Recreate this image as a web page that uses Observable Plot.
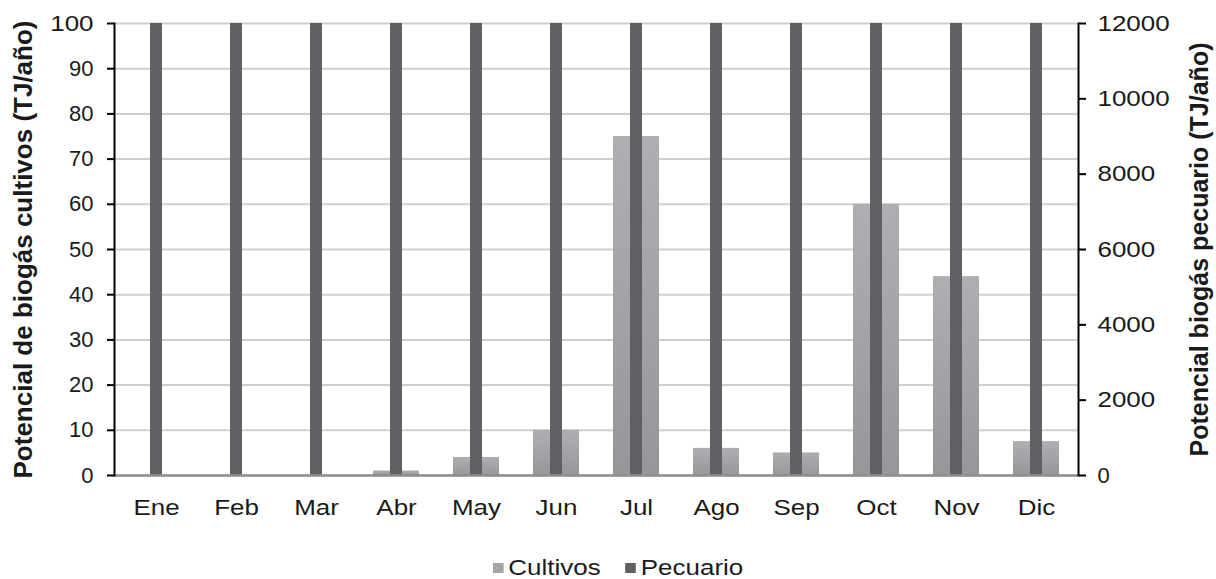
<!DOCTYPE html>
<html>
<head>
<meta charset="utf-8">
<script src="https://cdn.jsdelivr.net/npm/d3@7"></script>
<script src="https://cdn.jsdelivr.net/npm/@observablehq/plot@0.6"></script>
<style>
  body { margin: 0; background: #fff; font-family: "Liberation Sans", Arial, sans-serif; }
  #wrap { position: relative; width: 1216px; height: 579px; overflow: hidden; }
  #legend { position: absolute; top: 555px; left: 493px; font-size: 22px; line-height: 26px; color: #1a1a1a; display: flex; align-items: center; white-space: nowrap; transform: scaleX(1.18); transform-origin: 0 50%; }
  .sw { display: inline-block; width: 9px; height: 10px; margin-right: 4px; }
  .item { display: flex; align-items: center; margin-right: 21px; }
</style>
</head>
<body>
<div id="wrap">
  <div id="chart"></div>
  <div id="legend">
    <span class="item"><span class="sw" style="background:#a4a5a9"></span>Cultivos</span>
    <span class="item"><span class="sw" style="background:#5f6064"></span>Pecuario</span>
  </div>
</div>
<script>
const months = ["Ene", "Feb", "Mar", "Abr", "May", "Jun", "Jul", "Ago", "Sep", "Oct", "Nov", "Dic"];
const cultivos = [0, 0, 0, 1, 4, 10, 75, 6, 5, 60, 44, 7.5];
const pecuario = [12000, 12000, 12000, 12000, 12000, 12000, 12000, 12000, 12000, 12000, 12000, 12000];
const leftTicks = [0, 10, 20, 30, 40, 50, 60, 70, 80, 90, 100];
const rightTicks = [0, 2000, 4000, 6000, 8000, 10000, 12000];
const leftMax = 100;
const rightMax = 12000;
const leftTitle = "Potencial de biogás cultivos (TJ/año)";
const rightTitle = "Potencial biogás pecuario (TJ/año)";

const data = months.map((m, i) => ({month: m, cultivos: cultivos[i], pecuario: pecuario[i]}));
const toLeft = v => v * leftMax / rightMax;

const chart = Plot.plot({
  width: 1216,
  height: 545,
  marginLeft: 114,
  marginRight: 138,
  marginTop: 23,
  marginBottom: 70,
  style: {fontFamily: "'Liberation Sans', Arial, sans-serif", fontSize: "22px", color: "#1a1a1a", background: "#fff"},
  x: {domain: months, paddingInner: 0.427, paddingOuter: 0.2135, label: null},
  y: {domain: [0, leftMax]},
  marks: [
    Plot.gridY(leftTicks, {stroke: "#cfcfcf", strokeOpacity: 1, strokeWidth: 2}),
    Plot.barY(data, {x: "month", y: "cultivos", fill: "url(#gradC)"}),
    Plot.barY(data, {x: "month", y: d => toLeft(d.pecuario), fill: "#5f6064", insetLeft: 17, insetRight: 17}),
    Plot.ruleY([0], {stroke: "#8e8e8e", strokeWidth: 2.5}),
    Plot.axisX({tickSize: 0, tickPadding: 24, fontSize: 22}),
    Plot.axisY(leftTicks, {anchor: "left", tickSize: 7, tickPadding: 14, strokeWidth: 2, stroke: "#000", fontSize: 22, label: leftTitle, labelAnchor: "center", labelOffset: 101}),
    Plot.axisY(rightTicks.map(toLeft), {anchor: "right", tickSize: 7, tickPadding: 12, strokeWidth: 2, stroke: "#000", fontSize: 22, tickFormat: d => String(Math.round(d * rightMax / leftMax)), label: rightTitle, labelAnchor: "center", labelOffset: 129}),
    Plot.frame({anchor: "left", stroke: "#000", strokeWidth: 2}),
    Plot.frame({anchor: "right", stroke: "#000", strokeWidth: 2})
  ]
});

const ns = "http://www.w3.org/2000/svg";
const defs = document.createElementNS(ns, "defs");
defs.innerHTML = `<linearGradient id="gradC" x1="0" y1="0" x2="0" y2="1">
  <stop offset="0" stop-color="#aeafb3"/><stop offset="1" stop-color="#96979b"/></linearGradient>`;
chart.insertBefore(defs, chart.firstChild);

// axis titles: bold, larger, no arrow
chart.querySelectorAll('[aria-label="y-axis label"]').forEach((g, i) => {
  const fs = i === 0 ? 26 : 25;
  g.setAttribute("font-weight", "bold");
  g.setAttribute("font-size", fs);
  g.querySelectorAll("text").forEach(t => {
    t.setAttribute("font-weight", "bold");
    t.setAttribute("font-size", fs);
    t.style.fontWeight = "bold";
    t.style.fontSize = fs + "px";
    t.textContent = t.textContent.replace(/\s*[→←↑↓]\s*/g, "");
  });
});
document.getElementById("chart").appendChild(chart);

// The reference tick text is horizontally stretched; mimic it around each label's anchor.
const S = 1.18;
chart.querySelectorAll("text").forEach(t => {
  const r = t.getBoundingClientRect();
  if (!r.width || r.height > r.width) return; // leave rotated titles as they are
  const anchor = getComputedStyle(t).textAnchor;
  let cx;
  if (anchor === "end") cx = r.right;
  else if (anchor === "start") cx = r.left;
  else cx = (r.left + r.right) / 2;
  const m = t.parentNode.getScreenCTM();
  const pt = chart.createSVGPoint();
  pt.x = cx; pt.y = r.top;
  const p = pt.matrixTransform(m.inverse());
  const g = document.createElementNS(ns, "g");
  g.setAttribute("transform", `translate(${p.x},0) scale(${S},1) translate(${-p.x},0)`);
  t.parentNode.insertBefore(g, t);
  g.appendChild(t);
});
</script>
</body>
</html>
